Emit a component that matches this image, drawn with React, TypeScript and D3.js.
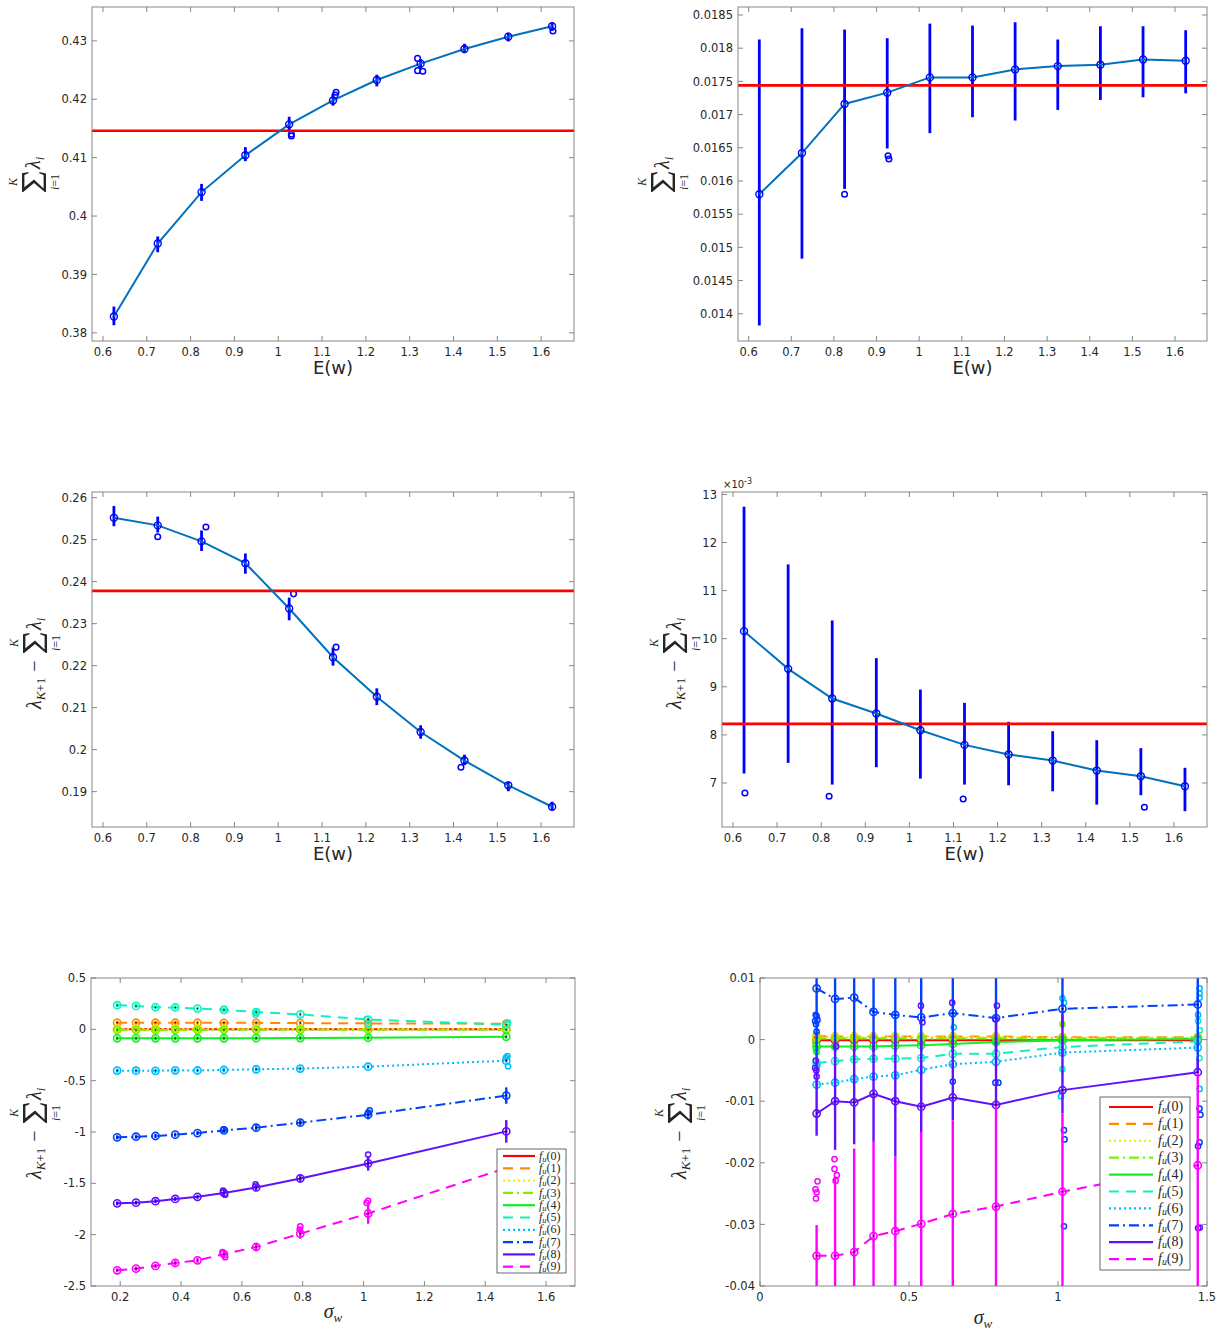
import React from "react";
import * as d3 from "d3";

// ---------------- data ----------------
const eX = [0.625, 0.725, 0.825, 0.925, 1.025, 1.125, 1.225, 1.325, 1.425, 1.525, 1.625];
const eXTicks = [0.6, 0.7, 0.8, 0.9, 1, 1.1, 1.2, 1.3, 1.4, 1.5, 1.6];
const eXDomain = [0.575, 1.675];

// panel 1: sum of lambda_i
const p1Mean = [0.3828, 0.3953, 0.4041, 0.4104, 0.4157, 0.4198, 0.4233, 0.4261, 0.4286, 0.4307, 0.4325];
const p1Lo = [0.3813, 0.3938, 0.4026, 0.4094, 0.4146, 0.4189, 0.4222, 0.4252, 0.4279, 0.4299, 0.4317];
const p1Hi = [0.3845, 0.3965, 0.4055, 0.4118, 0.417, 0.4209, 0.4242, 0.4269, 0.4295, 0.4314, 0.4331];
const p1Ref = 0.4146;
const p1OutX = [1.03, 1.03, 1.13, 1.132, 1.318, 1.318, 1.33, 1.627];
const p1OutY = [0.414, 0.4137, 0.4207, 0.4212, 0.427, 0.4249, 0.4248, 0.4317];
const p1YTicks = [0.38, 0.39, 0.4, 0.41, 0.42, 0.43];
const p1YDomain = [0.3786, 0.4358];

// panel 2
const p2Mean = [0.0158, 0.01642, 0.01716, 0.01733, 0.01756, 0.01756, 0.01768, 0.01773, 0.01775, 0.01783, 0.01781];
const p2Lo = [0.013825, 0.01483, 0.01588, 0.01649, 0.01672, 0.01696, 0.01691, 0.01707, 0.01722, 0.01726, 0.01732];
const p2Hi = [0.01813, 0.0183, 0.01828, 0.01815, 0.01837, 0.01834, 0.01839, 0.01813, 0.01833, 0.01833, 0.01827];
const p2Ref = 0.01744;
const p2OutX = [0.825, 0.927, 0.929];
const p2OutY = [0.0158, 0.01638, 0.01633];
const p2YTicks = [0.014, 0.0145, 0.015, 0.0155, 0.016, 0.0165, 0.017, 0.0175, 0.018, 0.0185];
const p2YDomain = [0.01359, 0.01862];

// panel 3
const p3Mean = [0.2552, 0.2534, 0.2496, 0.2444, 0.2336, 0.222, 0.2126, 0.2042, 0.1974, 0.1915, 0.1864];
const p3Lo = [0.2532, 0.2517, 0.2473, 0.2419, 0.2308, 0.22, 0.2106, 0.2026, 0.1963, 0.1901, 0.1855];
const p3Hi = [0.258, 0.2555, 0.2522, 0.2467, 0.2362, 0.2243, 0.2146, 0.2058, 0.1988, 0.1924, 0.1876];
const p3Ref = 0.2378;
const p3OutX = [0.725, 0.835, 1.035, 1.132, 1.417];
const p3OutY = [0.2507, 0.253, 0.2371, 0.2244, 0.1958];
const p3YTicks = [0.19, 0.2, 0.21, 0.22, 0.23, 0.24, 0.25, 0.26];
const p3YDomain = [0.18158, 0.26135];

// panel 4 (values x 1e-3)
const p4Mean = [10.157, 9.373, 8.756, 8.444, 8.097, 7.792, 7.591, 7.466, 7.258, 7.139, 6.932];
const p4Lo = [7.196, 7.418, 6.967, 7.328, 7.092, 6.967, 6.953, 6.828, 6.55, 6.746, 6.414];
const p4Hi = [12.743, 11.544, 10.379, 9.595, 8.943, 8.666, 8.271, 8.077, 7.89, 7.725, 7.316];
const p4Ref = 8.229;
const p4OutX = [0.627, 0.818, 1.122, 1.533];
const p4OutY = [6.793, 6.724, 6.668, 6.495];
const p4YTicks = [7, 8, 9, 10, 11, 12, 13];
const p4YDomain = [6.085, 13.05];

// bottom panels: sigma_w
const sigma = [0.19, 0.252, 0.316, 0.381, 0.454, 0.541, 0.647, 0.792, 1.015, 1.469];
const seriesNames = ["0", "1", "2", "3", "4", "5", "6", "7", "8", "9"];

// panel 5 means per f_u(k)
const p5F0 = [0.002, 0.002, 0.002, 0.002, 0.002, 0.002, 0.002, 0.002, 0.002, 0.002];
const p5F1 = [0.065, 0.064, 0.064, 0.064, 0.064, 0.063, 0.063, 0.061, 0.058, 0.055];
const p5F2 = [0.004, 0.004, 0.004, 0.004, 0.004, 0.004, 0.004, 0.004, 0.004, 0.004];
const p5F3 = [-0.006, -0.006, -0.006, -0.006, -0.006, -0.005, -0.005, -0.005, -0.004, -0.003];
const p5F4 = [-0.088, -0.088, -0.088, -0.088, -0.087, -0.087, -0.086, -0.085, -0.082, -0.072];
const p5F5 = [0.235, 0.228, 0.215, 0.213, 0.202, 0.19, 0.168, 0.146, 0.095, 0.045];
const p5F6 = [-0.402, -0.403, -0.404, -0.399, -0.401, -0.396, -0.389, -0.382, -0.364, -0.305];
const p5F7 = [-1.052, -1.046, -1.039, -1.026, -1.01, -0.985, -0.958, -0.909, -0.832, -0.645];
const p5F8 = [-1.695, -1.688, -1.674, -1.652, -1.631, -1.594, -1.54, -1.452, -1.306, -0.994];
const p5F9 = [-2.347, -2.331, -2.304, -2.276, -2.25, -2.19, -2.12, -1.99, -1.794, -1.35];
// whisker half-widths
const p5ErrSmall = [0.02, 0.02, 0.02, 0.02, 0.02, 0.02, 0.02, 0.02, 0.02, 0.02];
const p5Err7 = [0.02, 0.02, 0.02, 0.02, 0.02, 0.025, 0.025, 0.03, 0.045, 0.08];
const p5Err8 = [0.02, 0.02, 0.02, 0.02, 0.02, 0.03, 0.03, 0.04, 0.07, 0.11];
const p5Err9 = [0.02, 0.02, 0.02, 0.025, 0.025, 0.03, 0.03, 0.05, 0.1, 0.1];
const p5OutS = [8, 9, 9, 9, 9, 7, 7, 6, 6, 6, 9, 9, 8, 8, 8, 7, 5, 5, 5, 5, 1, 5, 5];
const p5OutX = [1.015, 0.792, 0.79, 1.015, 1.01, 1.02, 1.015, 1.473, 1.468, 1.475, 0.536, 0.545, 0.538, 0.545, 0.645, 0.54, 1.015, 1.01, 0.645, 0.65, 1.473, 1.475, 0.541];
const p5OutY = [-1.22, -1.92, -1.95, -1.67, -1.69, -0.79, -0.81, -0.26, -0.275, -0.36, -2.17, -2.22, -1.57, -1.61, -1.51, -0.975, 0.05, 0.1, 0.14, 0.17, 0.06, 0.065, 0.2];
const p5XTicks = [0.2, 0.4, 0.6, 0.8, 1, 1.2, 1.4, 1.6];
const p5YTicks = [-2.5, -2, -1.5, -1, -0.5, 0, 0.5];
const p5XDomain = [0.104, 1.695];
const p5YDomain = [-2.5, 0.5];

// panel 6 means per f_u(k)
const p6F0 = [-0.0001, -0.0001, -0.0001, -0.0001, -0.0001, -0.0001, -0.0001, -0.0001, -0.0001, -0.0001];
const p6F1 = [0.0006, 0.0005, 0.0005, 0.0005, 0.0005, 0.0005, 0.0005, 0.0005, 0.0004, 0.0004];
const p6F2 = [0.0004, 0.0004, 0.0004, 0.0004, 0.0004, 0.0004, 0.0004, 0.0004, 0.0003, 0.0003];
const p6F3 = [0.0002, 0.0002, 0.0002, 0.0002, 0.0002, 0.0002, 0.0002, 0.0002, 0.0002, 0.0002];
const p6F4 = [-0.0011, -0.0011, -0.0011, -0.0011, -0.001, -0.0009, -0.0007, -0.0004, -0.0001, 0.0001];
const p6F5 = [-0.0038, -0.0035, -0.0032, -0.0031, -0.0031, -0.003, -0.0023, -0.0023, -0.0012, -0.0003];
const p6F6 = [-0.0073, -0.007, -0.0064, -0.006, -0.0058, -0.0049, -0.004, -0.0036, -0.0021, -0.0013];
const p6F7 = [0.0083, 0.0066, 0.0068, 0.0045, 0.004, 0.0036, 0.0043, 0.0035, 0.005, 0.0057];
const p6F8 = [-0.012, -0.01, -0.0102, -0.0088, -0.01, -0.0109, -0.0094, -0.0106, -0.0082, -0.0053];
const p6F9 = [-0.0351, -0.0351, -0.0345, -0.0319, -0.0311, -0.0299, -0.0283, -0.0271, -0.0247, -0.0204];
const p6ErrSmall = [0.0006, 0.0006, 0.0006, 0.0006, 0.0006, 0.0006, 0.0006, 0.0006, 0.0006, 0.0006];
const p6Lo7 = [-0.003, -0.002, -0.002, -0.002, -0.002, -0.002, -0.002, -0.002, 0.002, -0.005];
const p6Hi7 = [0.02, 0.02, 0.02, 0.02, 0.02, 0.02, 0.02, 0.02, 0.02, 0.02];
const p6Lo8 = [-0.0156, -0.0179, -0.017, -0.0166, -0.019, -0.015, -0.0131, -0.0108, -0.012, -0.0055];
const p6Hi8 = [-0.003, 0.0, 0.0, 0.001, 0.001, 0.0, 0.0, 0.003, 0.004, -0.003];
const p6Lo9 = [-0.05, -0.05, -0.05, -0.05, -0.05, -0.05, -0.05, -0.05, -0.05, -0.05];
const p6Hi9 = [-0.0301, -0.0222, -0.0177, -0.0166, -0.019, -0.015, -0.0131, -0.0108, -0.012, -0.0055];
const p6OutS = [7, 7, 7, 7, 7, 7, 4, 4, 3, 8, 8, 8, 8, 9, 9, 9, 9, 6, 9, 9, 9, 9, 8, 8, 8, 8, 7, 6, 8, 8, 7, 7, 6, 6, 7, 7, 7, 5, 6, 3, 6, 6, 6, 6, 5, 7, 7, 7, 7, 8, 8, 6, 5, 5];
const p6OutX = [0.187, 0.19, 0.185, 0.193, 0.188, 0.19, 0.188, 0.19, 0.186, 0.187, 0.185, 0.189, 0.19, 0.193, 0.186, 0.19, 0.188, 0.192, 0.25, 0.25, 0.258, 0.254, 0.255, 0.54, 0.545, 0.645, 0.647, 0.65, 0.79, 0.795, 0.79, 0.8, 1.015, 1.02, 1.02, 1.022, 1.02, 1.015, 1.01, 1.015, 1.475, 1.475, 1.475, 1.47, 1.47, 1.475, 1.478, 1.475, 1.47, 1.47, 1.476, 1.475, 1.475, 1.476];
const p6OutY = [0.004, 0.0038, 0.003, 0.0032, 0.0025, 0.0013, -0.0015, -0.002, -0.0005, -0.0034, -0.0046, -0.005, -0.006, -0.023, -0.0243, -0.0248, -0.0258, -0.0043, -0.0194, -0.021, -0.022, -0.0229, -0.0011, 0.0055, 0.0028, 0.006, -0.0068, 0.002, 0.0033, 0.0055, -0.007, -0.007, 0.0067, 0.006, -0.0147, -0.0162, -0.0303, -0.0048, -0.0092, 0.0025, 0.0083, 0.0075, 0.0068, 0.004, 0.003, -0.0112, -0.0122, -0.0167, -0.0173, -0.0306, -0.0305, -0.008, -0.003, 0.0015];
const p6XTicks = [0, 0.5, 1, 1.5];
const p6YTicks = [-0.04, -0.03, -0.02, -0.01, 0, 0.01];
const p6XDomain = [0, 1.5];
const p6YDomain = [-0.04, 0.01];

// ---------------- styles ----------------
const AX = "#262626";
const SANS = "'DejaVu Sans', 'Liberation Sans', sans-serif";
const MATH = "'Liberation Serif', 'DejaVu Serif', serif";
const SERIES_COLORS = ["#ff0000", "#ff8c00", "#f2f200", "#7cf000", "#11ee22", "#11f0c0", "#00bbff", "#0040ff", "#6010ff", "#ff00ff"];
const SERIES_DASH = ["", "10 7", "2 3", "10 4 2 4", "", "10 7", "2 3", "10 4 2 4", "", "10 7"];

// normalised outline of a display-style summation sign (u across width, v down height)
const SIGMA_SHAPE: [number, number][] = [
  [0, 0], [0.94, 0], [1, 0.27], [0.94, 0.27], [0.85, 0.1], [0.24, 0.1], [0.62, 0.5], [0.18, 0.9],
  [0.85, 0.9], [0.94, 0.72], [1, 0.72], [0.92, 1], [0, 1], [0, 0.95], [0.45, 0.5], [0, 0.05],
];

type Box = { l: number; r: number; t: number; b: number };

function fmt(v: number) {
  return String(Math.round(v * 1e6) / 1e6);
}

function Axes({ box, xs, ys, xTicks, yTicks }: any) {
  const tl = 5;
  return (
    <g>
      <rect x={box.l} y={box.t} width={box.r - box.l} height={box.b - box.t} fill="none" stroke="#7a7a7a" strokeWidth={0.9} />
      {xTicks.map((t: number) => {
        const px = xs(t);
        return (
          <g key={"x" + t}>
            <line x1={px} x2={px} y1={box.b} y2={box.b - tl} stroke="#7a7a7a" strokeWidth={0.9} />
            <line x1={px} x2={px} y1={box.t} y2={box.t + tl} stroke="#7a7a7a" strokeWidth={0.9} />
            <text x={px} y={box.b + 15} textAnchor="middle" fontSize={11.5} fontFamily={SANS} fill={AX}>
              {fmt(t)}
            </text>
          </g>
        );
      })}
      {yTicks.map((t: number) => {
        const py = ys(t);
        return (
          <g key={"y" + t}>
            <line x1={box.l} x2={box.l + tl} y1={py} y2={py} stroke="#7a7a7a" strokeWidth={0.9} />
            <line x1={box.r} x2={box.r - tl} y1={py} y2={py} stroke="#7a7a7a" strokeWidth={0.9} />
            <text x={box.l - 5} y={py} dy="0.36em" textAnchor="end" fontSize={11.5} fontFamily={SANS} fill={AX}>
              {fmt(t)}
            </text>
          </g>
        );
      })}
    </g>
  );
}

function SumPart({ x }: { x: number }) {
  // local frame: x along the text, y across (positive = below baseline)
  const w = 20;
  const h = 24;
  const top = -18;
  const pts = SIGMA_SHAPE.map(([u, v]) => `${(x - w / 2 + u * w).toFixed(2)},${(top + v * h).toFixed(2)}`).join(" ");
  return (
    <g fill={AX} fontFamily={MATH}>
      <polygon points={pts} fill={AX} />
      <text x={x} y={-23} fontSize={12} textAnchor="middle" fontStyle="italic">K</text>
      <text x={x} y={19} fontSize={12} textAnchor="middle">
        <tspan fontStyle="italic">i</tspan>=1
      </text>
    </g>
  );
}

function ShortLabel({ cx, cy }: { cx: number; cy: number }) {
  return (
    <g transform={`translate(${cx},${cy}) rotate(-90)`}>
      <SumPart x={-8} />
      <text x={5} y={0} fontSize={20} fontStyle="italic" fontFamily={MATH} fill={AX}>
        λ<tspan fontSize={13} dy={4}>i</tspan>
      </text>
    </g>
  );
}

function LongLabel({ cx, cy }: { cx: number; cy: number }) {
  return (
    <g transform={`translate(${cx},${cy}) rotate(-90)`}>
      <text x={-49} y={0} fontSize={20} fontFamily={MATH} fill={AX}>
        <tspan fontStyle="italic">λ</tspan>
        <tspan fontSize={13} dy={4}>
          <tspan fontStyle="italic">K</tspan>+1
        </tspan>
      </text>
      <text x={-6} y={0} fontSize={20} textAnchor="middle" fontFamily={MATH} fill={AX}>
        −
      </text>
      <SumPart x={17} />
      <text x={30} y={0} fontSize={20} fontStyle="italic" fontFamily={MATH} fill={AX}>
        λ<tspan fontSize={13} dy={4}>i</tspan>
      </text>
    </g>
  );
}

function EPanel({ id, box, yDomain, yTicks, mean, lo, hi, refV, outX, outY }: any) {
  const xs = d3.scaleLinear().domain(eXDomain).range([box.l, box.r]);
  const ys = d3.scaleLinear().domain(yDomain).range([box.b, box.t]);
  const line = d3
    .line<number>()
    .x((_, i) => xs(eX[i]))
    .y((d) => ys(d));
  return (
    <g>
      <defs>
        <clipPath id={id}>
          <rect x={box.l} y={box.t} width={box.r - box.l} height={box.b - box.t} />
        </clipPath>
      </defs>
      <g clipPath={`url(#${id})`}>
        {eX.map((x, i) => (
          <line key={"w" + i} x1={xs(x)} x2={xs(x)} y1={ys(lo[i])} y2={ys(hi[i])} stroke="#0000ff" strokeWidth={2.8} />
        ))}
        {outX.map((x: number, i: number) => (
          <circle key={"o" + i} cx={xs(x)} cy={ys(outY[i])} r={2.8} fill="none" stroke="#0000ff" strokeWidth={1.5} />
        ))}
        <line x1={box.l} x2={box.r} y1={ys(refV)} y2={ys(refV)} stroke="#ff0000" strokeWidth={2.6} />
        <path d={line(mean) || ""} fill="none" stroke="#0072bd" strokeWidth={2} />
        {eX.map((x, i) => (
          <circle key={"m" + i} cx={xs(x)} cy={ys(mean[i])} r={3.5} fill="none" stroke="#0000ff" strokeWidth={1.4} />
        ))}
      </g>
      <Axes box={box} xs={xs} ys={ys} xTicks={eXTicks} yTicks={yTicks} />
      <text x={(box.l + box.r) / 2} y={box.b + 33} textAnchor="middle" fontSize={18} fontFamily={SANS} fill={AX}>
        E(w)
      </text>
    </g>
  );
}

function Legend({ x, y, w, h, rowH, firstOff, lineX0, lineX1, textX, fs }: any) {
  return (
    <g>
      <rect x={x} y={y} width={w} height={h} fill="#ffffff" stroke="#444" strokeWidth={0.8} />
      {seriesNames.map((n, k) => {
        const cy = y + firstOff + rowH * k;
        return (
          <g key={n}>
            <line x1={lineX0} x2={lineX1} y1={cy} y2={cy} stroke={SERIES_COLORS[k]} strokeWidth={2.2} strokeDasharray={SERIES_DASH[k]} />
            <text x={textX} y={cy} dy="0.3em" fontSize={fs} fontFamily={MATH} fill={AX}>
              <tspan fontStyle="italic">f</tspan>
              <tspan fontStyle="italic" fontSize={fs * 0.7} dy={2}>u</tspan>
              <tspan dy={-2}>({n})</tspan>
            </text>
          </g>
        );
      })}
    </g>
  );
}

function SPanel({ id, box, xDomain, yDomain, xTicks, yTicks, means, los, his, outS, outX, outY, legend }: any) {
  const xs = d3.scaleLinear().domain(xDomain).range([box.l, box.r]);
  const ys = d3.scaleLinear().domain(yDomain).range([box.b, box.t]);
  const line = d3
    .line<number>()
    .x((_, i) => xs(sigma[i]))
    .y((d) => ys(d));
  return (
    <g>
      <defs>
        <clipPath id={id}>
          <rect x={box.l} y={box.t} width={box.r - box.l} height={box.b - box.t} />
        </clipPath>
      </defs>
      <g clipPath={`url(#${id})`}>
        {means.map((m: number[], k: number) => (
          <g key={"s" + k}>
            {sigma.map((s, i) => (
              <line key={"w" + i} x1={xs(s)} x2={xs(s)} y1={ys(los[k][i])} y2={ys(his[k][i])} stroke={SERIES_COLORS[k]} strokeWidth={2.4} />
            ))}
            {outS.map((sk: number, j: number) =>
              sk === k ? (
                <circle key={"o" + j} cx={xs(outX[j])} cy={ys(outY[j])} r={2.6} fill="none" stroke={SERIES_COLORS[k]} strokeWidth={1.5} />
              ) : null
            )}
            <path d={line(m) || ""} fill="none" stroke={SERIES_COLORS[k]} strokeWidth={2} strokeDasharray={SERIES_DASH[k]} />
            {sigma.map((s, i) => (
              <g key={"m" + i}>
                <circle cx={xs(s)} cy={ys(m[i])} r={3.6} fill="none" stroke={SERIES_COLORS[k]} strokeWidth={1.6} />
                <circle cx={xs(s)} cy={ys(m[i])} r={0.8} fill="#000" />
              </g>
            ))}
          </g>
        ))}
      </g>
      <Axes box={box} xs={xs} ys={ys} xTicks={xTicks} yTicks={yTicks} />
      <Legend {...legend} />
    </g>
  );
}

function SigmaLabel({ x, y }: { x: number; y: number }) {
  return (
    <text x={x} y={y} textAnchor="middle" fontSize={20} fontFamily={MATH} fill={AX}>
      <tspan fontStyle="italic">σ</tspan>
      <tspan fontStyle="italic" fontSize={13} dy={4}>w</tspan>
    </text>
  );
}

export default function App() {
  const p5Means = [p5F0, p5F1, p5F2, p5F3, p5F4, p5F5, p5F6, p5F7, p5F8, p5F9];
  const p5Errs = [p5ErrSmall, p5ErrSmall, p5ErrSmall, p5ErrSmall, p5ErrSmall, p5ErrSmall, p5ErrSmall, p5Err7, p5Err8, p5Err9];
  const p5Los = p5Means.map((m, k) => m.map((v, i) => v - p5Errs[k][i]));
  const p5His = p5Means.map((m, k) => m.map((v, i) => v + p5Errs[k][i]));

  const p6Means = [p6F0, p6F1, p6F2, p6F3, p6F4, p6F5, p6F6, p6F7, p6F8, p6F9];
  const p6Los = p6Means.map((m, k) =>
    k === 7 ? p6Lo7 : k === 8 ? p6Lo8 : k === 9 ? p6Lo9 : m.map((v, i) => v - p6ErrSmall[i])
  );
  const p6His = p6Means.map((m, k) =>
    k === 7 ? p6Hi7 : k === 8 ? p6Hi8 : k === 9 ? p6Hi9 : m.map((v, i) => v + p6ErrSmall[i])
  );

  const b1: Box = { l: 92, r: 574, t: 7, b: 341 };
  const b2: Box = { l: 738, r: 1207, t: 7, b: 341 };
  const b3: Box = { l: 92, r: 574, t: 492, b: 827 };
  const b4: Box = { l: 722, r: 1207, t: 492, b: 827 };
  const b5: Box = { l: 91, r: 575, t: 978, b: 1286 };
  const b6: Box = { l: 760, r: 1207, t: 978, b: 1286 };

  return (
    <svg width={1220} height={1330} style={{ position: "absolute", left: 0, top: 0, background: "#fff" }}>
      <rect x={0} y={0} width={1220} height={1330} fill="#fff" />
      <EPanel id="c1" box={b1} yDomain={p1YDomain} yTicks={p1YTicks} mean={p1Mean} lo={p1Lo} hi={p1Hi} refV={p1Ref} outX={p1OutX} outY={p1OutY} />
      <EPanel id="c2" box={b2} yDomain={p2YDomain} yTicks={p2YTicks} mean={p2Mean} lo={p2Lo} hi={p2Hi} refV={p2Ref} outX={p2OutX} outY={p2OutY} />
      <EPanel id="c3" box={b3} yDomain={p3YDomain} yTicks={p3YTicks} mean={p3Mean} lo={p3Lo} hi={p3Hi} refV={p3Ref} outX={p3OutX} outY={p3OutY} />
      <EPanel id="c4" box={b4} yDomain={p4YDomain} yTicks={p4YTicks} mean={p4Mean} lo={p4Lo} hi={p4Hi} refV={p4Ref} outX={p4OutX} outY={p4OutY} />
      <text x={723} y={488} fontSize={10} fontFamily={SANS} fill={AX}>
        ×10<tspan fontSize={8} dy={-4}>-3</tspan>
      </text>
      <SPanel
        id="c5"
        box={b5}
        xDomain={p5XDomain}
        yDomain={p5YDomain}
        xTicks={p5XTicks}
        yTicks={p5YTicks}
        means={p5Means}
        los={p5Los}
        his={p5His}
        outS={p5OutS}
        outX={p5OutX}
        outY={p5OutY}
        legend={{ x: 497, y: 1149, w: 69, h: 124, rowH: 12.3, firstOff: 7, lineX0: 503, lineX1: 535, textX: 539, fs: 12 }}
      />
      <SPanel
        id="c6"
        box={b6}
        xDomain={p6XDomain}
        yDomain={p6YDomain}
        xTicks={p6XTicks}
        yTicks={p6YTicks}
        means={p6Means}
        los={p6Los}
        his={p6His}
        outS={p6OutS}
        outX={p6OutX}
        outY={p6OutY}
        legend={{ x: 1100, y: 1097, w: 90, h: 173, rowH: 16.9, firstOff: 10, lineX0: 1109, lineX1: 1153, textX: 1158, fs: 14 }}
      />
      <ShortLabel cx={40} cy={174} />
      <ShortLabel cx={669} cy={174} />
      <LongLabel cx={41} cy={660} />
      <LongLabel cx={681} cy={660} />
      <LongLabel cx={41} cy={1130} />
      <LongLabel cx={686} cy={1130} />
      <SigmaLabel x={333} y={1318} />
      <SigmaLabel x={983} y={1324} />
    </svg>
  );
}
